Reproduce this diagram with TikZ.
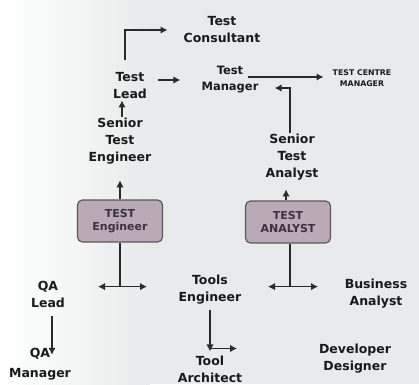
\documentclass[tikz,border=0pt]{standalone}
\usepackage{fontspec}
\setmainfont{DejaVu Sans}
\usetikzlibrary{arrows.meta}
\definecolor{txt}{HTML}{1A1A1A}
\definecolor{ln}{HTML}{2A2A2A}
\definecolor{boxfill}{HTML}{BAAAB8}
\definecolor{boxline}{HTML}{5F5560}
\definecolor{boxtxt}{HTML}{3B3340}
\definecolor{bg}{HTML}{E8EBEB}
\begin{document}
\begin{tikzpicture}[x=1pt,y=-1pt,
  lbl/.style={font=\bfseries\fontsize{12.5}{17}\selectfont, align=center, text=txt, inner sep=1pt},
  role/.style={draw=boxline, line width=1.2pt, fill=boxfill, rounded corners=5pt,
    minimum width=85pt, minimum height=42pt, inner sep=1pt,
    font=\bfseries\fontsize{11}{13}\selectfont, text=boxtxt, align=center},
  wire/.style={draw=ln, line width=1.5pt},
  conn/.style={wire, -{Latex[length=7pt,width=7.5pt]}},
  both/.style={wire, {Latex[length=7pt,width=7.5pt]}-{Latex[length=7pt,width=7.5pt]}}]
\useasboundingbox (0,0) rectangle (419,384);
\shade[left color=white, right color=bg] (0,0) rectangle (150,384);
\fill[bg] (150,0) rectangle (419,384);

% labels
\node[lbl] (cons) at (222,30) {Test\\Consultant};
\node[lbl] (lead) at (130,86) {Test\\Lead};
\node[lbl, font=\bfseries\fontsize{11.5}{16}\selectfont] (mgr) at (230,80) {Test\\Manager};
\node[lbl, font=\bfseries\fontsize{7.8}{11}\selectfont] (tcm) at (362,78) {TEST CENTRE\\MANAGER};
\node[lbl] (sta) at (292,157) {Senior\\Test\\Analyst};
\node[lbl] (ste) at (120,141) {Senior\\Test\\Engineer};
\node[role] (eng) at (120,221) {TEST\\Engineer};
\node[role] (ana) at (288,222) {TEST\\ANALYST};
\node[lbl] (qal) at (48,294) {QA\\Lead};
\node[lbl] (tools) at (210,290) {Tools\\Engineer};
\node[lbl] (ba) at (376,294) {Business\\Analyst};
\node[lbl, font=\bfseries\fontsize{12.5}{20}\selectfont] (qam) at (40,364) {QA\\Manager};
\node[lbl] (arch) at (210,369) {Tool\\Architect};
\node[lbl] (dev) at (355,359) {Developer\\Designer};

% connectors
\draw[conn] ([xshift=-5pt,yshift=12pt]lead.north) |- ([xshift=-15pt]cons.west);
\draw[conn] ([xshift=10pt]lead.east |- mgr.west) -- ([xshift=-20pt]mgr.west);
\draw[conn] ([xshift=-12pt,yshift=3pt]mgr.east) -- ([xshift=-8pt,yshift=3pt]mgr.east -| tcm.west);
\draw[conn] ([xshift=-2pt]sta.north) |- ([xshift=15pt,yshift=-8pt]mgr.east);
\draw[conn] ([xshift=2pt]ste.north) -- ([xshift=2pt]ste.north |- lead.south);
\draw[conn] (eng.north) -- ([yshift=-15pt]ste.south);
\draw[conn] ([xshift=-2pt]ana.north) -- ++(0,-11);

\draw[wire] (eng.south) -- ++(0,44) coordinate (ej);
\draw[both] ([xshift=-22pt]ej) -- ([xshift=27pt]ej);
\draw[wire] ([xshift=2pt]ana.south) -- ++(0,43) coordinate (aj);
\draw[both] ([xshift=-22pt]aj) -- ([xshift=28pt]aj);

\draw[conn] ([yshift=-4pt]tools.south) -- ([yshift=3pt]arch.north);
\draw[conn] ([yshift=6pt]arch.north) -- ++(27,0);
\draw[conn] ([xshift=4pt,yshift=-8pt]qal.south) -- ([xshift=4pt,yshift=-8pt]qal.south |- qam.north);
\end{tikzpicture}
\end{document}
